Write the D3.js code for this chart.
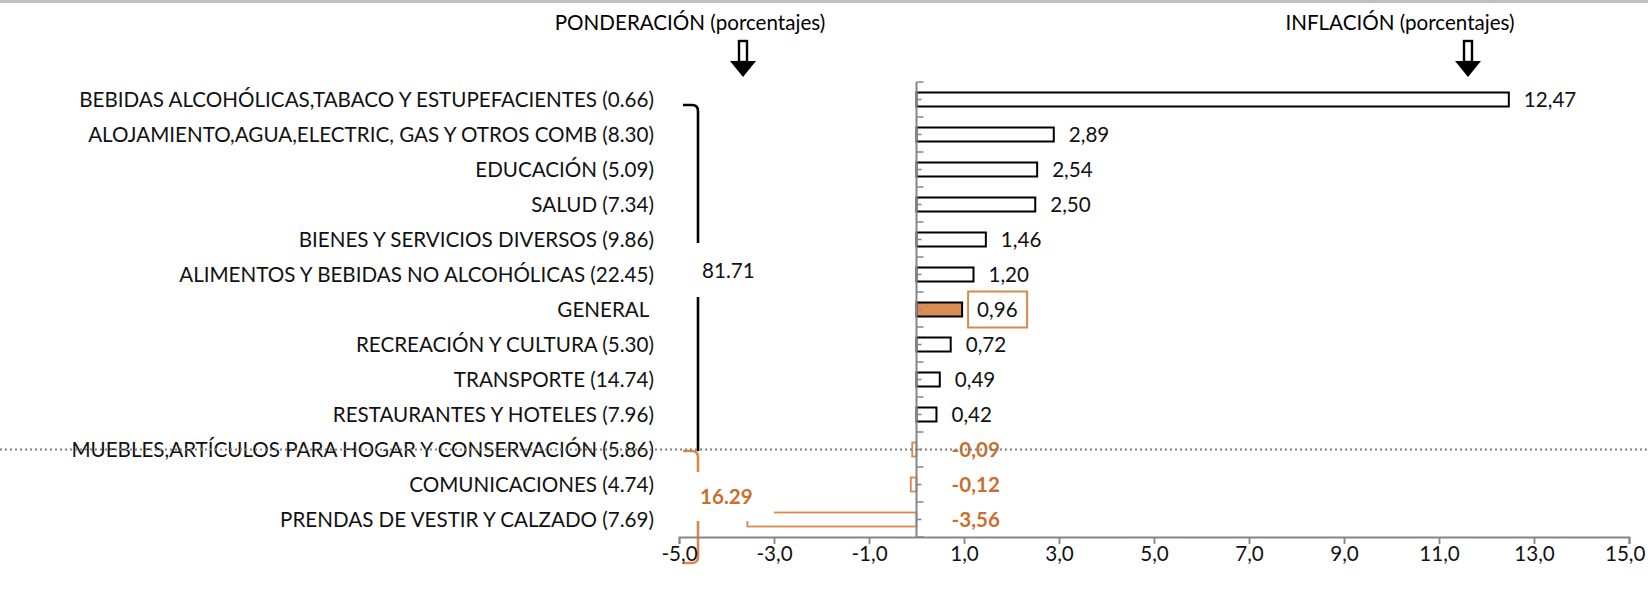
<!DOCTYPE html>
<html>
<head>
<meta charset="utf-8">
<script src="https://cdn.jsdelivr.net/npm/d3@7"></script>
<style>
  body { margin: 0; background: #fff; }
  svg { display: block; font-family: Lato, "Open Sans", sans-serif; }
</style>
</head>
<body>
<svg width="1648" height="589"></svg>
<script>
// categories, their weight (ponderación) and the inflation of each one
const categories = [
  'BEBIDAS ALCOHÓLICAS,TABACO Y ESTUPEFACIENTES',
  'ALOJAMIENTO,AGUA,ELECTRIC, GAS Y OTROS COMB',
  'EDUCACIÓN',
  'SALUD',
  'BIENES Y SERVICIOS DIVERSOS',
  'ALIMENTOS Y BEBIDAS NO ALCOHÓLICAS',
  'GENERAL',
  'RECREACIÓN Y CULTURA',
  'TRANSPORTE',
  'RESTAURANTES Y HOTELES',
  'MUEBLES,ARTÍCULOS PARA HOGAR Y CONSERVACIÓN',
  'COMUNICACIONES',
  'PRENDAS DE VESTIR Y CALZADO'
];
const weights = ['0.66', '8.30', '5.09', '7.34', '9.86', '22.45', null, '5.30', '14.74', '7.96', '5.86', '4.74', '7.69'];
const inflation = [12.47, 2.89, 2.54, 2.50, 1.46, 1.20, 0.96, 0.72, 0.49, 0.42, -0.09, -0.12, -3.56];
const groupTotals = ['81.71', '16.29'];
const xTicks = [-5, -3, -1, 1, 3, 5, 7, 9, 11, 13, 15];

const orange = '#D9884E', orangeText = '#C86F2E', grey = '#868686';
const fontSize = 20.6;

const svg = d3.select('svg');
svg.append('rect').attr('width', 1648).attr('height', 3).attr('fill', '#BFBFBF');

const x = d3.scaleLinear().domain([-5, 15]).range([679, 1629]);
const y = d3.scaleBand().domain(categories).range([82, 537]).paddingInner(0.6).paddingOuter(0.3);
const x0 = x(0);

const rows = categories.map((c, i) => ({name: c, w: weights[i], v: inflation[i]}));

// titles and arrows
const titles = [
  {t: 'PONDERACIÓN (porcentajes)', x: 690, ax: 743},
  {t: 'INFLACIÓN (porcentajes)', x: 1400, ax: 1468}
];
titles.forEach(d => {
  svg.append('text').attr('x', d.x).attr('y', 23).attr('dy', '0.35em')
    .attr('text-anchor', 'middle').attr('font-size', fontSize).text(d.t);
  svg.append('rect').attr('x', d.ax - 4).attr('y', 41).attr('width', 8).attr('height', 21)
    .attr('fill', '#fff').attr('stroke', '#000').attr('stroke-width', 2.4);
  svg.append('path').attr('d', `M${d.ax - 13},61L${d.ax + 13},61L${d.ax},77Z`).attr('fill', '#000');
});

// category labels
svg.append('g').selectAll('text').data(rows).join('text')
  .attr('x', 654)
  .attr('y', d => y(d.name) + y.bandwidth() / 2)
  .attr('dy', '0.35em')
  .attr('text-anchor', 'end')
  .attr('font-size', fontSize)
  .attr('fill', '#111')
  .text(d => d.w ? `${d.name} (${d.w})` : d.name + '\u00A0');

// brackets
svg.append('path')
  .attr('d', 'M683,105H692Q698,105 698,111V451')
  .attr('fill', 'none').attr('stroke', '#000').attr('stroke-width', 2.6);
svg.append('path')
  .attr('d', 'M683,451H692Q698,451 698,457V557Q698,563 692,563H683')
  .attr('fill', 'none').attr('stroke', orange).attr('stroke-width', 2.6);

// bars
svg.append('g').selectAll('rect').data(rows).join('rect')
  .attr('x', d => x(Math.min(0, d.v)))
  .attr('y', d => y(d.name))
  .attr('width', d => Math.abs(x(d.v) - x0))
  .attr('height', y.bandwidth())
  .attr('fill', d => d.name === 'GENERAL' ? '#D98D55' : '#fff')
  .attr('stroke', d => d.v < 0 ? orange : '#000')
  .attr('stroke-width', d => d.v < 0 ? 1.8 : 2);

// vertical category axis with ticks at band limits and centres
const yAxisG = svg.append('g');
yAxisG.append('line').attr('x1', x0).attr('x2', x0).attr('y1', 82).attr('y2', 537)
  .attr('stroke', grey).attr('stroke-width', 2);
yAxisG.selectAll('line.lim').data(d3.range(categories.length + 1)).join('line')
  .attr('class', 'lim')
  .attr('x1', x0).attr('x2', x0 + 7)
  .attr('y1', i => 82 + i * y.step()).attr('y2', i => 82 + i * y.step())
  .attr('stroke', grey).attr('stroke-width', 1.5);
yAxisG.selectAll('line.mid').data(rows).join('line')
  .attr('class', 'mid')
  .attr('x1', x0).attr('x2', x0 + 5)
  .attr('y1', d => y(d.name) + y.bandwidth() / 2).attr('y2', d => y(d.name) + y.bandwidth() / 2)
  .attr('stroke', grey).attr('stroke-width', 1.5);

// x axis
const xAxis = d3.axisBottom(x).tickValues(xTicks)
  .tickFormat(d => d.toFixed(1).replace('.', ','))
  .tickSize(7).tickSizeOuter(7).tickPadding(2);
const xg = svg.append('g').attr('transform', 'translate(0,537)').call(xAxis);
xg.selectAll('path, line').attr('stroke', grey).attr('stroke-width', 1.8);
xg.selectAll('text').attr('font-size', fontSize).attr('font-family', 'Lato, "Open Sans", sans-serif').attr('fill', '#111');
// last label kept inside the picture
xg.selectAll('.tick').filter(d => d === 15).select('text')
  .attr('text-anchor', 'end').attr('x', 1645 - x(15));

// white boxes of the group totals (they hide part of the brackets)
svg.append('rect').attr('x', 688).attr('y', 243).attr('width', 82).attr('height', 54).attr('fill', '#fff');
svg.append('rect').attr('x', 688).attr('y', 472).attr('width', 86).attr('height', 49).attr('fill', '#fff');
svg.append('text').attr('x', 702).attr('y', 271).attr('dy', '0.35em')
  .attr('font-size', fontSize).attr('fill', '#111').text(groupTotals[0]);
svg.append('text').attr('x', 700).attr('y', 497).attr('dy', '0.35em')
  .attr('font-size', fontSize).attr('font-weight', 'bold').attr('fill', orangeText).text(groupTotals[1]);

// value labels
const fmt = v => v.toFixed(2).replace('.', ',');
const labelX = d => d.v < 0 ? x0 + 35 : x(d.v) + 15;
const gen = rows.find(d => d.name === 'GENERAL');
svg.append('rect')
  .attr('x', labelX(gen) - 9).attr('y', y(gen.name) + y.bandwidth() / 2 - 18)
  .attr('width', 59).attr('height', 36)
  .attr('fill', '#fff').attr('stroke', orange).attr('stroke-width', 2);
svg.append('g').selectAll('text').data(rows).join('text')
  .attr('x', labelX)
  .attr('y', d => y(d.name) + y.bandwidth() / 2)
  .attr('dy', '0.35em')
  .attr('font-size', fontSize)
  .attr('font-weight', d => d.v < 0 ? 'bold' : 'normal')
  .attr('fill', d => d.v < 0 ? orangeText : '#111')
  .text(d => fmt(d.v));

// dotted separator through the first negative category
const sepY = y('MUEBLES,ARTÍCULOS PARA HOGAR Y CONSERVACIÓN') + y.bandwidth() / 2;
svg.append('line').attr('x1', 0).attr('x2', 1648).attr('y1', sepY).attr('y2', sepY)
  .attr('stroke', '#7F7F7F').attr('stroke-width', 2).attr('stroke-dasharray', '2,3');
</script>
</body>
</html>
